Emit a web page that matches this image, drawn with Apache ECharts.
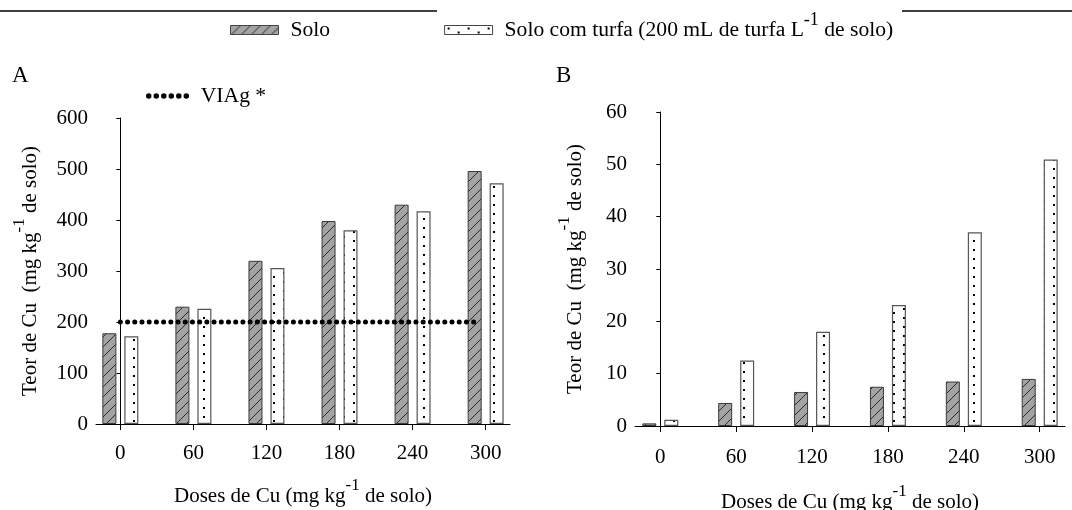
<!DOCTYPE html>
<html>
<head>
<meta charset="utf-8">
<script src="https://cdn.jsdelivr.net/npm/echarts@6/dist/echarts.min.js"></script>
<style>
  html, body { margin: 0; padding: 0; background: #fff; }
  #chart { width: 1072px; height: 510px; }
</style>
</head>
<body>
<div id="chart"></div>
<script>
// doses de Cu aplicadas (mg kg-1)
const doses = [0, 60, 120, 180, 240, 300];
// painel A - teor total
const soloA = [178, 230, 320, 398, 430, 496];
const turfaA = [172, 226, 306, 380, 417, 472];
// painel B - teor disponivel
const soloB = [0.5, 4.4, 6.5, 7.5, 8.5, 9.0];
const turfaB = [1.2, 12.5, 18.0, 23.1, 37.0, 50.9];
// VIAg (valor de investigacao agricola)
const viag = 200;
const viagSpan = [0, 295];

const serif = '"Liberation Serif", "Times New Roman", serif';

// padrao hachurado (Solo)
function hatchPattern() {
  const c = document.createElement('canvas');
  c.width = 10; c.height = 10;
  const g = c.getContext('2d');
  g.fillStyle = '#a3a3a3';
  g.fillRect(0, 0, 10, 10);
  g.strokeStyle = '#2a2a2a';
  g.lineWidth = 1;
  g.beginPath();
  g.moveTo(-1, 11); g.lineTo(11, -1);
  g.moveTo(-1, 1); g.lineTo(1, -1);
  g.moveTo(9, 11); g.lineTo(11, 9);
  g.stroke();
  return c;
}
// padrao pontilhado (Solo com turfa)
function dotPattern() {
  const c = document.createElement('canvas');
  c.width = 20; c.height = 9;
  const g = c.getContext('2d');
  g.fillStyle = '#fff';
  g.fillRect(0, 0, 20, 9);
  g.fillStyle = '#000';
  g.fillRect(3, 2, 2, 2);
  g.fillRect(13, 6, 2, 2);
  return c;
}

const soloStyle = { color: { image: hatchPattern(), repeat: 'repeat' }, borderColor: '#3a3a3a', borderWidth: 1 };
const turfaStyle = { color: { image: dotPattern(), repeat: 'repeat' }, borderColor: '#555', borderWidth: 1.2 };

function richText(size, supSize, supLine) {
  return {
    n: { fontFamily: serif, fontSize: size, lineHeight: 38, verticalAlign: 'middle', color: '#000' },
    s: { fontFamily: serif, fontSize: supSize, lineHeight: supLine, verticalAlign: 'top', color: '#000' }
  };
}
const axisRich = richText(21, 17, 22);
const legendRich = richText(21.6, 18, 24);
const yName = '{n|Teor de Cu  (mg kg}{s|-1}{n| de solo)}';
const xName = '{n|Doses de Cu (mg kg}{s|-1}{n| de solo)}';

function xAxis(gridIndex, gap, labelMargin) {
  return {
    type: 'value', gridIndex: gridIndex, min: -20, max: 320,
    name: xName, nameLocation: 'middle', nameGap: gap,
    nameTextStyle: { rich: axisRich },
    axisLine: { lineStyle: { color: '#000', width: 1 } },
    axisTick: { customValues: doses, length: 6, lineStyle: { color: '#000' } },
    axisLabel: { customValues: doses, margin: labelMargin, fontFamily: serif, fontSize: 21, color: '#000' },
    splitLine: { show: false }
  };
}
function yAxis(gridIndex, max, interval, gap) {
  return {
    type: 'value', gridIndex: gridIndex, min: 0, max: max, interval: interval,
    name: yName, nameLocation: 'middle', nameGap: gap,
    nameTextStyle: { rich: axisRich },
    axisLine: { show: true, lineStyle: { color: '#000', width: 1 } },
    axisTick: { show: true, length: 4, lineStyle: { color: '#000' } },
    axisLabel: { margin: 8, fontFamily: serif, fontSize: 21, color: '#000' },
    splitLine: { show: false }
  };
}

function bars(name, xi, vals, style) {
  return {
    name: name, type: 'bar', xAxisIndex: xi, yAxisIndex: xi,
    data: doses.map((d, i) => [d, vals[i]]),
    barWidth: 14, barGap: '57%',
    itemStyle: style
  };
}

const chart = echarts.init(document.getElementById('chart'));
chart.setOption({
  animation: false,
  backgroundColor: '#fff',
  grid: [
    { left: 96, right: 562, top: 118, bottom: 86, containLabel: false, outerBoundsMode: 'none' },
    { left: 635, right: 7, top: 112, bottom: 84, containLabel: false, outerBoundsMode: 'none' }
  ],
  xAxis: [xAxis(0, 53, 19), xAxis(1, 57, 21)],
  yAxis: [yAxis(0, 600, 100, 47), yAxis(1, 60, 10, 41)],
  legend: [
    {
      data: ['Solo', 'Solo com turfa'],
      left: 230, top: 11, padding: 0,
      icon: 'rect', itemWidth: 48, itemHeight: 9, itemGap: 114,
      itemStyle: { borderColor: '#444', borderWidth: 1 },
      textStyle: { rich: legendRich, padding: [0, 0, 0, 7] },
      formatter: function (name) {
        return name === 'Solo' ? '{n|Solo}' : '{n|Solo com turfa (200 mL de turfa L}{s|-1}{n| de solo)}';
      },
      selectedMode: false
    },
    {
      data: ['VIAg *'],
      left: 146, top: 85, padding: 0,
      itemWidth: 38, itemHeight: 6,
      itemStyle: { color: 'rgba(0,0,0,0)', borderWidth: 0 },
      lineStyle: { color: '#000', width: 5.5, type: [0.01, 7.5], cap: 'round' },
      textStyle: { rich: legendRich, padding: [0, 0, 0, 9] },
      formatter: '{n|{name}}',
      selectedMode: false
    }
  ],
  series: [
    bars('Solo', 0, soloA, soloStyle),
    bars('Solo com turfa', 0, turfaA, turfaStyle),
    bars('Solo', 1, soloB, soloStyle),
    bars('Solo com turfa', 1, turfaB, turfaStyle),
    {
      name: 'VIAg *', type: 'line', xAxisIndex: 0, yAxisIndex: 0,
      data: viagSpan.map(x => [x, viag]),
      symbol: 'none', z: 5, color: '#000',
      lineStyle: { color: '#000', width: 5, type: [0.01, 7.2], cap: 'round' }
    }
  ],
  graphic: [
    { type: 'line', shape: { x1: 0, y1: 11, x2: 437, y2: 11 }, style: { stroke: '#000', lineWidth: 1.5 } },
    { type: 'line', shape: { x1: 902, y1: 11, x2: 1072, y2: 11 }, style: { stroke: '#000', lineWidth: 1.5 } },
    { type: 'text', x: 12, y: 76, style: { text: 'A', font: '23px ' + serif, fill: '#000', verticalAlign: 'middle' } },
    { type: 'text', x: 556, y: 76, style: { text: 'B', font: '23px ' + serif, fill: '#000', verticalAlign: 'middle' } }
  ]
});
</script>
</body>
</html>
